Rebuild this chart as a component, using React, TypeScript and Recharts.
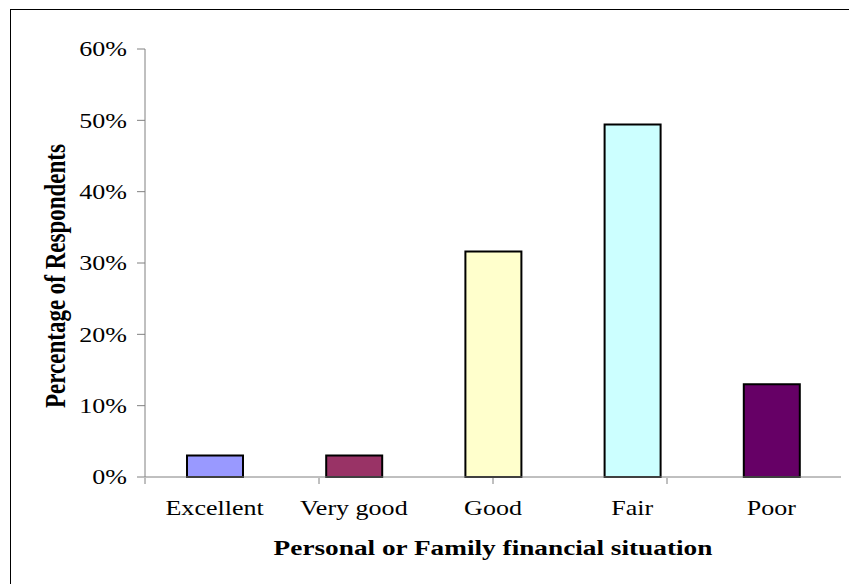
import React from 'react';
import { BarChart, Bar, XAxis, YAxis, Cell, Label } from 'recharts';

const categories = ['Excellent', 'Very good', 'Good', 'Fair', 'Poor'];
const values = [3.0, 3.0, 31.6, 49.4, 13.0];
const barColors = ['#9999FF', '#993366', '#FFFFCC', '#CCFFFF', '#660066'];
const yTicks = [0, 10, 20, 30, 40, 50, 60];
const edgeTicks = [0, 1, 2, 3, 4, 5];

const FONT = '"Liberation Serif", "Times New Roman", serif';
const AXIS = '#808080';
// the original text is stretched sideways
const STRETCH = 1.24;

const data = categories.map((name, i) => ({ name, value: values[i] }));

function XTick({ x, y, payload }: any) {
  return (
    <text
      transform={`translate(${x},${y + 38}) scale(${STRETCH},1)`}
      textAnchor="middle"
      fontFamily={FONT}
      fontSize={21}
      fill="#000"
    >
      {payload.value}
    </text>
  );
}

function YTick({ x, y, payload }: any) {
  return (
    <text
      transform={`translate(${x},${y}) scale(${STRETCH},1)`}
      textAnchor="end"
      dy="0.35em"
      fontFamily={FONT}
      fontSize={21}
      fill="#000"
    >
      {`${payload.value}%`}
    </text>
  );
}

function YTitle({ viewBox }: any) {
  const cx = viewBox.x + 65;
  const cy = viewBox.y + 227;
  return (
    <text
      transform={`translate(${cx},${cy}) scale(${STRETCH},1) rotate(-90)`}
      textAnchor="middle"
      fontFamily={FONT}
      fontSize={23}
      fontWeight="bold"
      fill="#000"
    >
      Percentage of Respondents
    </text>
  );
}

function XTitle({ viewBox }: any) {
  const cx = viewBox.x + viewBox.width / 2;
  const cy = viewBox.y + 78;
  return (
    <text
      transform={`translate(${cx},${cy}) scale(${STRETCH},1)`}
      textAnchor="middle"
      fontFamily={FONT}
      fontSize={22}
      fontWeight="bold"
      fill="#000"
    >
      Personal or Family financial situation
    </text>
  );
}

export default function App() {
  return (
    <div
      style={{
        position: 'fixed',
        left: 0,
        top: 0,
        width: 849,
        height: 584,
        overflow: 'hidden',
        background: '#fff',
      }}
    >
      <div
        style={{
          position: 'absolute',
          left: 10,
          top: 9,
          width: 900,
          height: 700,
          border: '1px solid #000',
        }}
      />
      <div style={{ position: 'absolute', left: 0, top: 0 }}>
        <BarChart
          width={849}
          height={584}
          data={data}
          margin={{ top: 49, right: 8, left: 0, bottom: 105 }}
        >
          <XAxis
            xAxisId="cat"
            dataKey="name"
            height={1}
            tickLine={false}
            tickSize={0}
            tickMargin={0}
            axisLine={{ stroke: AXIS }}
            tick={<XTick />}
            interval={0}
          >
            <Label content={<XTitle />} />
          </XAxis>
          <XAxis
            xAxisId="edges"
            type="number"
            domain={[0, 5]}
            ticks={edgeTicks}
            allowDataOverflow
            height={1}
            axisLine={false}
            tickSize={6}
            tickLine={{ stroke: AXIS }}
            tick={() => <g />}
          />
          <YAxis
            width={145}
            domain={[0, 60]}
            ticks={yTicks}
            tickSize={8}
            tickMargin={10}
            axisLine={{ stroke: AXIS }}
            tickLine={{ stroke: AXIS }}
            tick={<YTick />}
          >
            <Label content={<YTitle />} />
          </YAxis>
          <Bar
            xAxisId="cat"
            dataKey="value"
            barSize={56}
            stroke="#000"
            strokeWidth={2}
            isAnimationActive={false}
          >
            {data.map((d, i) => (
              <Cell key={d.name} fill={barColors[i]} />
            ))}
          </Bar>
        </BarChart>
      </div>
    </div>
  );
}
